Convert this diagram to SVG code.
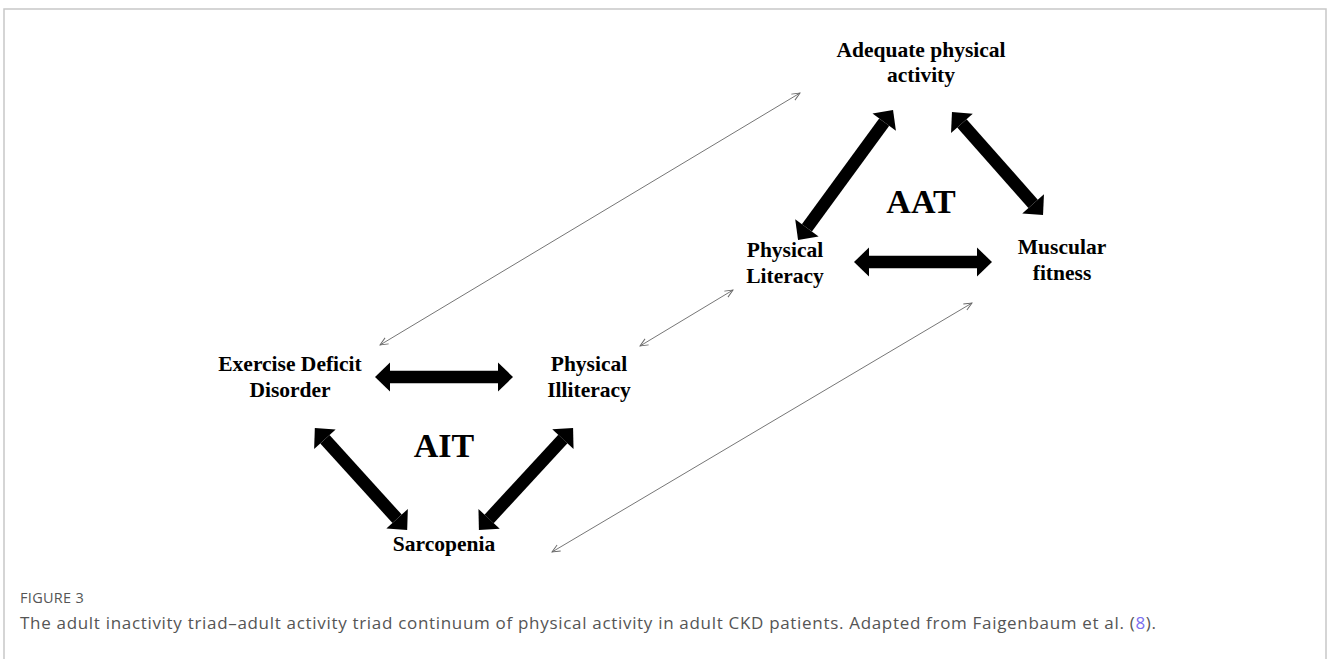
<svg xmlns="http://www.w3.org/2000/svg" width="1328" height="659" viewBox="0 0 1328 659">
<style>
.lbl{font-family:"Liberation Serif","Times New Roman",serif;font-weight:bold;font-size:21.5px;fill:#000;text-anchor:middle}
.big{font-family:"Liberation Serif","Times New Roman",serif;font-weight:bold;font-size:34px;fill:#000;text-anchor:middle}
.thick{stroke:#000;stroke-width:12.5;fill:none;marker-start:url(#hd);marker-end:url(#hd)}
.thin{stroke:#666;stroke-width:0.9;fill:none;marker-start:url(#ht);marker-end:url(#ht)}
.cap{font-family:"Open Sans","Liberation Sans",sans-serif;fill:#555}
</style>
<defs>
<marker id="hd" markerUnits="userSpaceOnUse" markerWidth="17" markerHeight="30" refX="0" refY="14.5" orient="auto-start-reverse" overflow="visible">
<path d="M0,0 L15,14.5 L0,29 Z" fill="#000"/>
</marker>
<marker id="ht" markerUnits="userSpaceOnUse" markerWidth="10" markerHeight="10" refX="8" refY="3.5" orient="auto-start-reverse" overflow="visible">
<path d="M0,0 L8,3.5 L0,7" fill="none" stroke="#666" stroke-width="0.9"/>
</marker>
</defs>
<rect width="1328" height="659" fill="#fff"/>
<path d="M4,700 V9 H1326 V700" fill="none" stroke="#c8c8c8" stroke-width="1.5"/>
<g id="connectors">
<line class="thick" x1="806.9" y1="227.9" x2="884.2" y2="122.1"/>
<line class="thick" x1="961.9" y1="123.3" x2="1033.1" y2="203.8"/>
<line class="thick" x1="869" y1="262" x2="977" y2="262"/>
<line class="thick" x1="390" y1="377" x2="498" y2="377"/>
<line class="thick" x1="324.9" y1="439.2" x2="397.1" y2="518.8"/>
<line class="thick" x1="562.9" y1="439.1" x2="489.1" y2="518.9"/>
<line class="thin" x1="380" y1="345" x2="800" y2="93"/>
<line class="thin" x1="640" y1="346" x2="733" y2="290"/>
<line class="thin" x1="552" y1="552" x2="972" y2="303"/>
</g>
<g id="node-apa"><text class="lbl" x="921" y="57">Adequate physical</text><text class="lbl" x="921" y="82">activity</text></g>
<g id="node-aat"><text class="big" x="921" y="213">AAT</text></g>
<g id="node-pl"><text class="lbl" x="785" y="257">Physical</text><text class="lbl" x="785" y="283">Literacy</text></g>
<g id="node-mf"><text class="lbl" x="1062" y="254">Muscular</text><text class="lbl" x="1062" y="280">fitness</text></g>
<g id="node-edd"><text class="lbl" x="290" y="371">Exercise Deficit</text><text class="lbl" x="290" y="397">Disorder</text></g>
<g id="node-pi"><text class="lbl" x="589" y="371">Physical</text><text class="lbl" x="589" y="397">Illiteracy</text></g>
<g id="node-ait"><text class="big" x="444" y="457">AIT</text></g>
<g id="node-sarc"><text class="lbl" x="444" y="551">Sarcopenia</text></g>
<g id="caption">
<text class="cap" x="20" y="603" font-size="14.5" letter-spacing="0.3">FIGURE 3</text>
<text class="cap" x="20" y="629" font-size="17" textLength="1136" lengthAdjust="spacing">The adult inactivity triad–adult activity triad continuum of physical activity in adult CKD patients. Adapted from Faigenbaum et al. (<tspan fill="#7a6ff0">8</tspan>).</text>
</g>
</svg>
